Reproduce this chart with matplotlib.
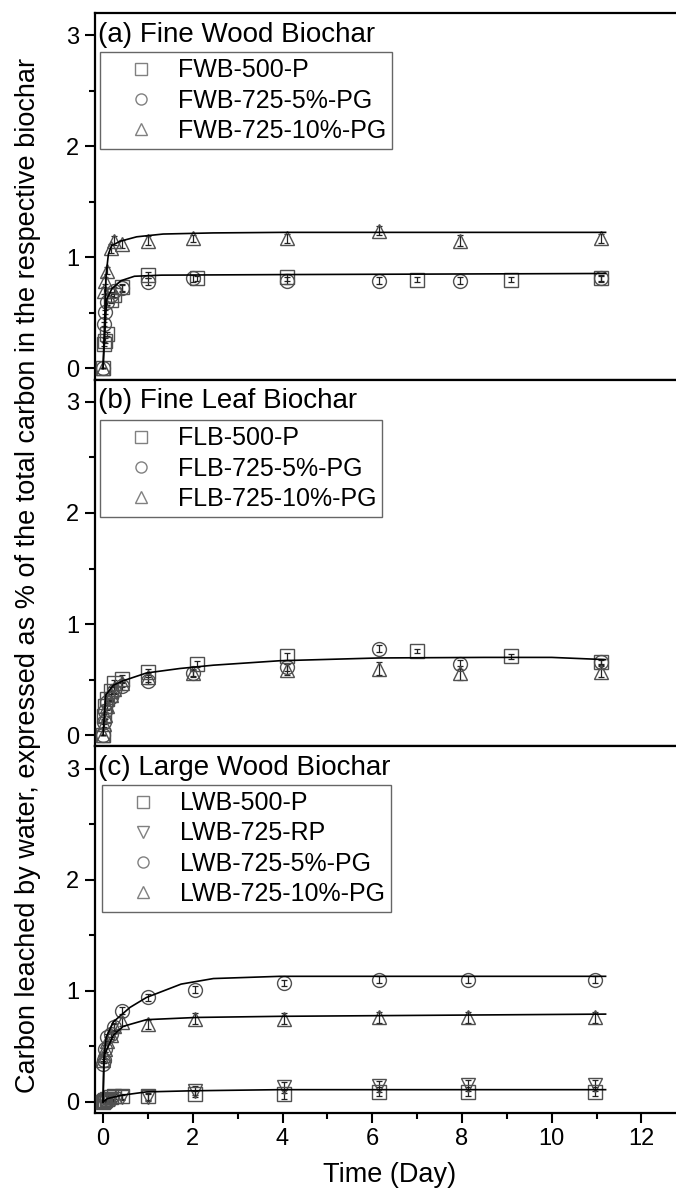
import matplotlib
matplotlib.use("Agg")
import matplotlib.pyplot as plt
from matplotlib.ticker import MultipleLocator

plt.rcParams["font.family"] = ["Liberation Sans", "DejaVu Sans"]

# sampling times (days)
t_500 = [0, 0.02, 0.04, 0.08, 0.17, 0.25, 0.42, 1.0, 2.1, 4.1, 7.0, 9.1, 11.1]
t_725 = [0, 0.02, 0.04, 0.08, 0.17, 0.25, 0.42, 1.0, 2.0, 4.1, 6.15, 7.95, 11.1]
t_lwb = [0, 0.02, 0.04, 0.08, 0.17, 0.25, 0.42, 1.0, 2.05, 4.04, 6.15, 8.13, 10.96]

# (a) Fine Wood Biochar
fwb_500_p = [0.0, 0.22, 0.25, 0.31, 0.62, 0.66, 0.73, 0.84, 0.81, 0.82, 0.80, 0.80, 0.81]
fwb_725_5 = [0.0, 0.40, 0.51, 0.60, 0.66, 0.70, 0.72, 0.78, 0.81, 0.79, 0.79, 0.79, 0.81]
fwb_725_10 = [0.0, 0.70, 0.79, 0.88, 1.08, 1.15, 1.12, 1.15, 1.17, 1.17, 1.24, 1.15, 1.17]
fwb_500_p_err = [0.0, 0.02, 0.02, 0.02, 0.03, 0.02, 0.03, 0.03, 0.02, 0.03, 0.02, 0.02, 0.02]
fwb_725_5_err = [0.0, 0.02, 0.02, 0.03, 0.03, 0.03, 0.03, 0.03, 0.03, 0.03, 0.03, 0.03, 0.03]
fwb_725_10_err = [0.0, 0.03, 0.03, 0.03, 0.04, 0.04, 0.04, 0.04, 0.03, 0.04, 0.04, 0.05, 0.04]
fit_a_x1 = [0, 0.07, 0.12, 0.19, 0.38, 0.75, 1.34, 2.45, 4.0, 11.2]
fit_a_y1 = [0, 0.85, 1.03, 1.105, 1.145, 1.185, 1.21, 1.22, 1.225, 1.225]
fit_a_x2 = [0, 0.08, 0.2, 0.4, 0.7, 1.3, 4.0, 11.2]
fit_a_y2 = [0, 0.62, 0.72, 0.79, 0.83, 0.84, 0.845, 0.855]

# (b) Fine Leaf Biochar
flb_500_p = [0.0, 0.17, 0.26, 0.33, 0.40, 0.47, 0.51, 0.57, 0.64, 0.71, 0.76, 0.71, 0.66]
flb_725_5 = [0.0, 0.12, 0.22, 0.30, 0.34, 0.40, 0.44, 0.49, 0.56, 0.61, 0.78, 0.64, 0.66]
flb_725_10 = [0.0, 0.10, 0.18, 0.26, 0.36, 0.42, 0.47, 0.52, 0.56, 0.59, 0.60, 0.56, 0.57]
flb_500_p_err = [0.0, 0.02, 0.02, 0.02, 0.03, 0.03, 0.03, 0.03, 0.03, 0.03, 0.02, 0.02, 0.02]
flb_725_5_err = [0.0, 0.02, 0.02, 0.03, 0.03, 0.03, 0.03, 0.03, 0.03, 0.03, 0.03, 0.04, 0.03]
flb_725_10_err = [0.0, 0.03, 0.03, 0.03, 0.04, 0.04, 0.04, 0.04, 0.04, 0.05, 0.06, 0.06, 0.05]
fit_b_x = [0, 0.06, 0.23, 0.45, 0.97, 1.71, 2.46, 3.94, 6.15, 8.5, 10.0, 11.2]
fit_b_y = [0, 0.36, 0.45, 0.49, 0.56, 0.60, 0.63, 0.67, 0.695, 0.70, 0.70, 0.68]

# (c) Large Wood Biochar
lwb_500_p = [0.0, 0.01, 0.02, 0.03, 0.04, 0.05, 0.05, 0.05, 0.07, 0.07, 0.09, 0.09, 0.09]
lwb_725_rp = [0.0, 0.0, 0.01, 0.01, 0.02, 0.03, 0.04, 0.04, 0.10, 0.13, 0.14, 0.15, 0.15]
lwb_725_5 = [0.34, 0.38, 0.48, 0.58, 0.61, 0.67, 0.82, 0.94, 1.01, 1.07, 1.10, 1.10, 1.10]
lwb_725_10 = [0.38, 0.42, 0.48, 0.55, 0.60, 0.68, 0.72, 0.70, 0.75, 0.75, 0.76, 0.76, 0.76]
lwb_500_p_err = [0.0, 0.01, 0.01, 0.02, 0.02, 0.02, 0.02, 0.03, 0.03, 0.04, 0.04, 0.04, 0.04]
lwb_725_rp_err = [0.0, 0.01, 0.01, 0.02, 0.02, 0.02, 0.02, 0.03, 0.04, 0.05, 0.05, 0.05, 0.05]
lwb_725_5_err = [0.03, 0.03, 0.03, 0.03, 0.03, 0.03, 0.03, 0.03, 0.03, 0.03, 0.03, 0.03, 0.03]
lwb_725_10_err = [0.03, 0.03, 0.03, 0.03, 0.03, 0.03, 0.04, 0.04, 0.05, 0.05, 0.05, 0.05, 0.05]
fit_c_x1 = [0, 0.02, 0.07, 0.23, 0.6, 0.97, 1.74, 2.46, 3.94, 11.2]
fit_c_y1 = [0, 0.40, 0.58, 0.72, 0.85, 0.94, 1.06, 1.11, 1.13, 1.13]
fit_c_x2 = [0, 0.02, 0.04, 0.23, 0.45, 0.97, 2.09, 3.94, 11.2]
fit_c_y2 = [0, 0.35, 0.43, 0.60, 0.68, 0.74, 0.76, 0.77, 0.79]
fit_c_x3 = [0, 0.1, 0.42, 0.97, 2.0, 3.94, 11.2]
fit_c_y3 = [0, 0.03, 0.06, 0.09, 0.10, 0.11, 0.11]

W, H = 676, 1200
EDGE = "#505050"


def fig_xy(px, py):
    # pixel position (from top-left) -> figure fraction
    return px / W, 1 - py / H


def draw_panel(ax, series, fits, title, title_px, legend_px, show_x):
    handles = []
    for t, y, err, marker, label in series:
        ax.errorbar(t, y, yerr=err, fmt="none", ecolor="#222222",
                    elinewidth=0.9, capsize=2.5, capthick=0.9, zorder=2)
        h, = ax.plot(t, y, marker, ms=10, mfc="none", mec=EDGE, mew=1.0,
                     label=label, zorder=3)
        handles.append(h)
    for fx, fy in fits:
        ax.plot(fx, fy, color="black", lw=1.2, zorder=4)

    ax.set_xlim(-0.19, 12.92)
    ax.set_ylim(-0.1, 3.2)
    ax.yaxis.set_major_locator(MultipleLocator(1))
    ax.yaxis.set_minor_locator(MultipleLocator(0.5))
    ax.xaxis.set_major_locator(MultipleLocator(2))
    ax.xaxis.set_minor_locator(MultipleLocator(1))
    ax.tick_params(which="both", direction="out", width=1.5, labelsize=17,
                   right=False, top=False, pad=4)
    ax.tick_params(which="major", length=7)
    ax.tick_params(which="minor", length=4)
    if not show_x:
        ax.tick_params(axis="x", which="both", bottom=False, labelbottom=False)
    for side in ["left", "bottom", "top"]:
        ax.spines[side].set_linewidth(1.6)
    ax.spines["right"].set_visible(False)

    fig = ax.figure
    tx, ty = fig_xy(*title_px)
    fig.text(tx, ty, title, fontsize=20, va="center", ha="left")

    lx, ly = fig_xy(*legend_px)
    leg = ax.legend(handles=handles, loc="upper left", bbox_to_anchor=(lx, ly),
                    bbox_transform=fig.transFigure, borderaxespad=0,
                    fontsize=18, frameon=True, fancybox=False,
                    edgecolor="#404040", borderpad=0.25, handlelength=2.8,
                    handletextpad=0.05, labelspacing=0.25, markerscale=0.8)
    leg.get_frame().set_linewidth(1.0)
    for h in leg.legend_handles:
        h.set_markeredgecolor("#808080")


fig = plt.figure(figsize=(W / 100, H / 100), dpi=100)
left, width, height = 94.5 / W, 0.8702, 366.7 / H
ax_a = fig.add_axes([left, 0.0725 + 2 * height, width, height])
ax_b = fig.add_axes([left, 0.0725 + height, width, height])
ax_c = fig.add_axes([left, 0.0725, width, height])

draw_panel(ax_a,
           [(t_500, fwb_500_p, fwb_500_p_err, "s", "FWB-500-P"),
            (t_725, fwb_725_5, fwb_725_5_err, "o", "FWB-725-5%-PG"),
            (t_725, fwb_725_10, fwb_725_10_err, "^", "FWB-725-10%-PG")],
           [(fit_a_x1, fit_a_y1), (fit_a_x2, fit_a_y2)],
           "(a) Fine Wood Biochar", (98, 35), (100, 52), False)

draw_panel(ax_b,
           [(t_500, flb_500_p, flb_500_p_err, "s", "FLB-500-P"),
            (t_725, flb_725_5, flb_725_5_err, "o", "FLB-725-5%-PG"),
            (t_725, flb_725_10, flb_725_10_err, "^", "FLB-725-10%-PG")],
           [(fit_b_x, fit_b_y)],
           "(b) Fine Leaf Biochar", (98, 401), (100, 420), False)

draw_panel(ax_c,
           [(t_lwb, lwb_500_p, lwb_500_p_err, "s", "LWB-500-P"),
            (t_lwb, lwb_725_rp, lwb_725_rp_err, "v", "LWB-725-RP"),
            (t_lwb, lwb_725_5, lwb_725_5_err, "o", "LWB-725-5%-PG"),
            (t_lwb, lwb_725_10, lwb_725_10_err, "^", "LWB-725-10%-PG")],
           [(fit_c_x1, fit_c_y1), (fit_c_x2, fit_c_y2), (fit_c_x3, fit_c_y3)],
           "(c) Large Wood Biochar", (98, 768), (102, 785), True)

yx, yy = fig_xy(28, 575)
fig.text(yx, yy, "Carbon leached by water, expressed as % of the total carbon in the respective biochar",
         rotation=90, fontsize=19.5, va="center", ha="center")
xx, xy = fig_xy(390, 1175)
fig.text(xx, xy, "Time (Day)", fontsize=19.5, va="center", ha="center")

fig.savefig("out.png", dpi=100)
plt.close(fig)
